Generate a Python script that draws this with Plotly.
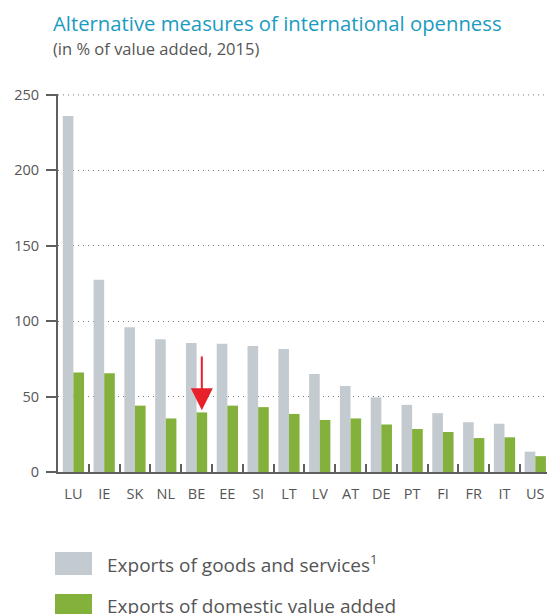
import plotly.graph_objects as go

# Countries and the two export measures (in % of value added, 2015)
countries = ["LU", "IE", "SK", "NL", "BE", "EE", "SI", "LT", "LV", "AT",
             "DE", "PT", "FI", "FR", "IT", "US"]
exports_goods_services = [236, 127.5, 96, 88, 85.5, 85, 83.5, 81.5, 65, 57,
                          49.5, 44.5, 39, 33, 32, 13.5]
exports_domestic_va = [66, 65.5, 44, 35.5, 39.5, 44, 43, 38.5, 34.5, 35.5,
                       31.5, 28.5, 26.5, 22.5, 23, 10.5]
y_ticks = [0, 50, 100, 150, 200, 250]

highlight = "BE"

GREY = "#c3cbd0"
GREEN = "#84b03c"
TEXT = "#555555"
AXIS = "#5f5f5f"
GRID = "#777777"
FONT = "Open Sans, Noto Sans, sans-serif"

W, H = 547, 614
M_L, M_T, M_B, M_R = 58, 94, 142, 0
PW, PH = W - M_L - M_R, H - M_T - M_B


def px_x(px):
    return (px - M_L) / PW


def px_y(py):
    return (H - M_B - py) / PH


fig = go.Figure()
fig.add_trace(go.Bar(x=countries, y=exports_goods_services, marker_color=GREY,
                     marker_line_width=0, showlegend=False,
                     name="Exports of goods and services"))
fig.add_trace(go.Bar(x=countries, y=exports_domestic_va, marker_color=GREEN,
                     marker_line_width=0, showlegend=False,
                     name="Exports of domestic value added"))

# top gridline sits on the edge of the plot area, so draw it explicitly
fig.add_shape(type="line", xref="paper", yref="y", x0=0, x1=1,
              y0=y_ticks[-1], y1=y_ticks[-1], layer="below",
              line=dict(color=GRID, width=1, dash="1px,4px"))

# red arrow pointing at the highlighted country's domestic value added bar
hi = countries.index(highlight)
hi_val = exports_domestic_va[hi]
fig.add_annotation(x=hi + 0.17, y=hi_val + 1.5, ax=hi + 0.17, ay=hi_val + 38,
                   xref="x", yref="y", axref="x", ayref="y", text="",
                   showarrow=True, arrowhead=2, arrowsize=2.2, arrowwidth=2,
                   arrowcolor="#e8202a")

# title and subtitle
fig.add_annotation(text="Alternative measures of international openness",
                   xref="paper", yref="paper", x=px_x(51), y=px_y(23),
                   xanchor="left", yanchor="middle", showarrow=False,
                   font=dict(family=FONT, size=20.3, color="#1a9bc0"))
fig.add_annotation(text="(in % of value added, 2015)",
                   xref="paper", yref="paper", x=px_x(51), y=px_y(48),
                   xanchor="left", yanchor="middle", showarrow=False,
                   font=dict(family=FONT, size=16.5, color=TEXT))

# legend drawn as swatches with labels
legend_items = [("Exports of goods and services<sup>1</sup>", GREY, 552),
                ("Exports of domestic value added", GREEN, 594)]
for label, color, top in legend_items:
    fig.add_shape(type="rect", xref="paper", yref="paper",
                  x0=px_x(55), x1=px_x(92), y0=px_y(top), y1=px_y(top + 23),
                  fillcolor=color, line_width=0)
    fig.add_annotation(text=label, xref="paper", yref="paper",
                       x=px_x(105), y=px_y(top + 11.5), xanchor="left",
                       yanchor="middle", showarrow=False,
                       font=dict(family=FONT, size=19, color=TEXT))

fig.update_layout(
    width=W, height=H,
    margin=dict(l=M_L, r=M_R, t=M_T, b=M_B, pad=0),
    paper_bgcolor="white", plot_bgcolor="white",
    barmode="group", bargap=0.31, bargroupgap=0,
    font=dict(family=FONT, color=TEXT),
)
fig.update_xaxes(
    type="category", range=[-0.5, len(countries) - 0.5 - 0.12],
    showline=True, linecolor=AXIS, linewidth=2,
    ticks="inside", tickson="boundaries", ticklen=8, tickwidth=2,
    tickcolor=AXIS, showgrid=False, ticklabelstandoff=8,
    tickfont=dict(family=FONT, size=14.5, color=TEXT),
)
fig.update_yaxes(
    range=[0, 250.6], tickvals=y_ticks, showline=True, linecolor=AXIS,
    linewidth=2, ticks="outside", ticklen=10, tickwidth=1.5, tickcolor=AXIS,
    showgrid=True, gridcolor=GRID, gridwidth=1, griddash="1px,4px",
    zeroline=False, ticklabelstandoff=4,
    tickfont=dict(family=FONT, size=14.5, color=TEXT),
)

fig.write_html("out.html")
